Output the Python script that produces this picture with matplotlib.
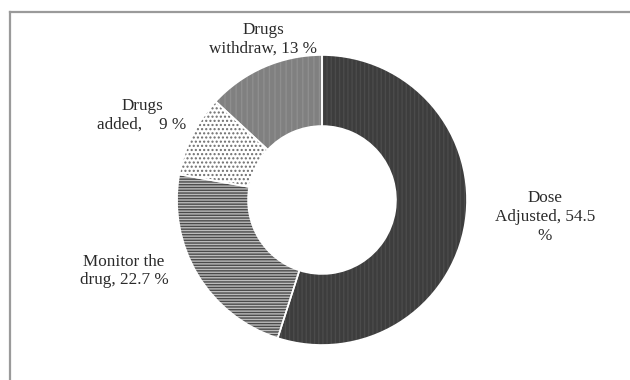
import matplotlib
matplotlib.use("Agg")
import matplotlib.pyplot as plt
from matplotlib.lines import Line2D

categories = ["Dose Adjusted", "Monitor the drug", "Drugs added", "Drugs withdraw"]
values = [54.5, 22.7, 9, 13]
label_texts = ["Dose\nAdjusted, 54.5\n%", "Monitor the\ndrug, 22.7 %", "Drugs\nadded,    9 %", "Drugs\nwithdraw, 13 %"]

face_colors = ["#3d3d3d", "#bcbcbc", "#ffffff", "#808080"]
hatch_colors = ["#4b4b4b", "#4a4a4a", "#6e6e6e", "#8e8e8e"]
hatches = ["||||", "------", "....", "|||"]
label_pos = [(545, 163), (124, 109), (142, 265), (263, 341)]

plt.rcParams['font.family'] = ['Liberation Serif', 'DejaVu Serif']
plt.rcParams['hatch.linewidth'] = 1.0

fig = plt.figure(figsize=(6.3, 3.8), dpi=100)
ax = fig.add_axes([0, 0, 1, 1])

center = (322, 180)
R = 145
width = 0.49

wedges, _ = ax.pie(values, startangle=90, counterclock=False, radius=R, center=center,
                   wedgeprops=dict(width=R * width, linewidth=0), frame=True)
for w, fc, hc, h in zip(wedges, face_colors, hatch_colors, hatches):
    w.set_facecolor(fc)
    w.set_edgecolor(hc)
    w.set_hatch(h)
    w.set_linewidth(0)

outl, _ = ax.pie(values, startangle=90, counterclock=False, radius=R, center=center,
                 wedgeprops=dict(width=R * width, linewidth=1.2, edgecolor='white', fill=False), frame=True)
ax.set_xlim(0, 630)
ax.set_ylim(0, 380)
ax.set_aspect('equal')
ax.axis('off')

for txt, (x, y) in zip(label_texts, label_pos):
    ax.text(x, y, txt, ha='center', va='center', fontsize=12.3, color='#2a2a2a', linespacing=1.25)

# frame lines (top and left only, as in the reference)
fig.add_artist(Line2D([10 / 630, 1.0], [1 - 12 / 380, 1 - 12 / 380], transform=fig.transFigure,
                      color='#9a9a9a', linewidth=1.6))
fig.add_artist(Line2D([10 / 630, 10 / 630], [1 - 12 / 380, 0], transform=fig.transFigure,
                      color='#9a9a9a', linewidth=1.6))

fig.savefig("out.png", dpi=100, facecolor='white')
